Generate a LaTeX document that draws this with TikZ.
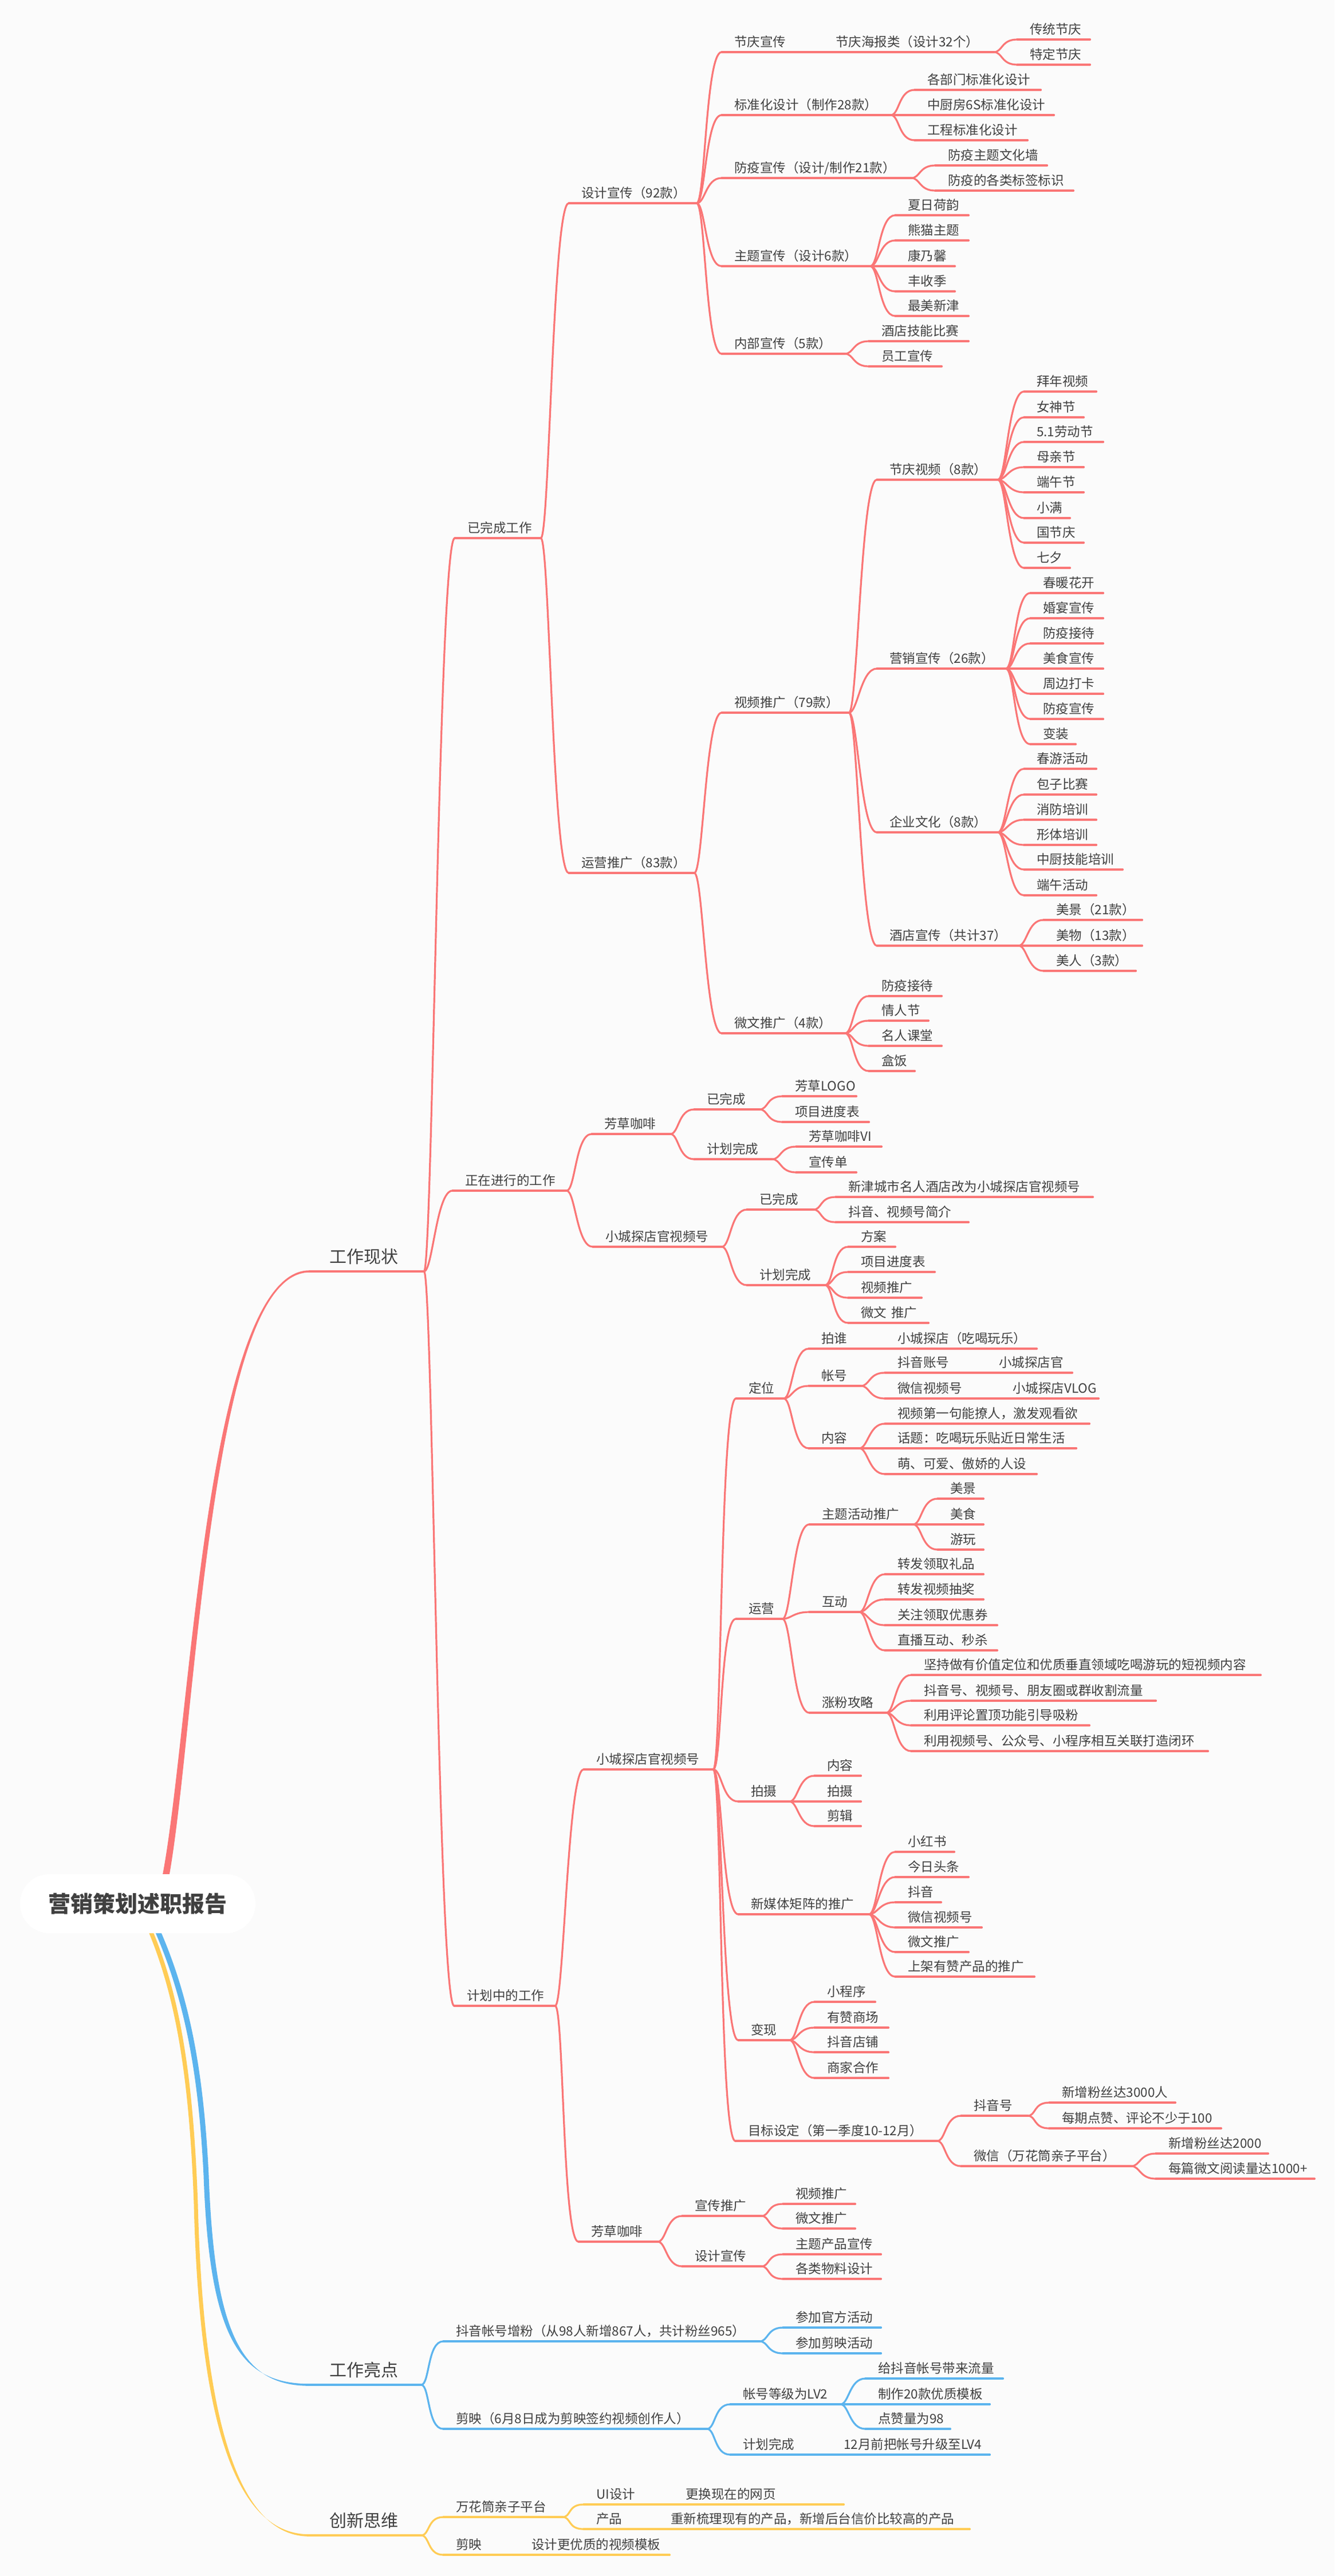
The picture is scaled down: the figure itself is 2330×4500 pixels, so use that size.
\documentclass[tikz,border=0pt]{standalone}
\usepackage{fontspec}
\setmainfont{Noto Sans CJK SC}
\usetikzlibrary{calc}
\definecolor{rd}{RGB}{250,118,118}
\definecolor{bl}{RGB}{92,180,238}
\definecolor{yl}{RGB}{255,204,85}
\definecolor{tx}{RGB}{64,64,64}
\definecolor{bg}{RGB}{251,251,251}
\def\tpcol{rd}
\newcommand\tp[5]{%
  \pgfmathsetmacro\tpw{#3-#2-44}%
  \node[topic,anchor=south west] (#1) at (#2,#4) {\makebox[\tpw pt][l]{#5}};%
  \draw[uline,\tpcol] (#1.south west) -- (#1.south east);}
\newcommand\tpb[5]{%
  \pgfmathsetmacro\tpw{#3-#2-70}%
  \node[topic,inner xsep=35pt,text depth=14pt,font=\fontsize{30}{36}\selectfont,anchor=south west] (#1) at (#2,#4) {\makebox[\tpw pt][l]{#5}};%
  \draw[uline,\tpcol,line width=3.6pt] (#1.south west) -- (#1.south east);}
\newcommand\cn[2]{\foreach \ch in {#2}{\draw[conn,\tpcol] (#1.south east) .. controls +(15,0) and +(-28,0) .. (\ch.south west);}}
\begin{document}
\begin{tikzpicture}[x=1pt,y=-1pt,
  topic/.style={inner xsep=22pt,inner ysep=0pt,text depth=9pt,text=tx,font=\fontsize{22.5}{27}\selectfont},
  uline/.style={line width=3.2pt,line cap=round},
  conn/.style={line width=3.2pt,line cap=round},
  rootnode/.style={fill=white,rounded corners=51pt,minimum width=411pt,minimum height=103pt,inner sep=0pt,text=tx,font=\fontsize{39}{46}\selectfont\bfseries}]
\useasboundingbox (0,0) rectangle (2330,4500);
\fill[bg] (0,0) rectangle (2330,4500);

% main thick branches
\fill[yl] (234,3320) .. controls (301,3450) and (329.5,3600) .. (338.5,3850) .. controls (348.5,4253) and (418,4427.2) .. (540,4427.2) -- (540,4430.8) .. controls (422,4430.8) and (355.5,4247) .. (345.5,3850) .. controls (336.5,3600) and (309,3450) .. (242,3320) -- cycle;
\fill[bl] (245,3320) .. controls (317,3460) and (345.5,3600) .. (355.5,3800) .. controls (365.5,4083) and (418,4164.2) .. (540,4164.2) -- (540,4167.8) .. controls (422,4167.8) and (374.5,4077) .. (364.5,3800) .. controls (354.5,3600) and (327,3460) .. (255,3320) -- cycle;
\fill[rd] (274.2,3318.4) .. controls (302.1,3218.8) and (321,2944.6) .. (356.2,2694.95) .. controls (391.5,2443.5) and (446,2219.2) .. (540,2219.2) -- (540,2222.8) .. controls (446,2222.8) and (398,2448) .. (364.1,2696.05) .. controls (330,2946) and (312.9,3221.2) .. (285.8,3321.6) -- cycle;
\node[rootnode] (root) at (240.5,3325.5) {营销策划述职报告};

% ===== red branch =====
\def\tpcol{rd}
\tpb{gzxz}{540}{740}{2221}{工作现状}
\tp{a}{794}{944}{940}{已完成工作}
\tp{b}{790}{989}{2080}{正在进行的工作}
\tp{c}{793}{969}{3504}{计划中的工作}
\tp{a1}{993}{1216}{355}{设计宣传（92款）}
\tp{a2}{993}{1212}{1525}{运营推广（83款）}
\tp{a11}{1260}{1437}{91}{节庆宣传}
\tp{a111}{1437}{1735}{91}{节庆海报类（设计32个）}
\tp{a1111}{1776}{1903}{69}{传统节庆}
\tp{a1112}{1776}{1903}{113}{特定节庆}
\tp{a12}{1260}{1555}{201}{标准化设计（制作28款）}
\tp{a121}{1597}{1817}{157}{各部门标准化设计}
\tp{a122}{1597}{1840}{201}{中厨房6S标准化设计}
\tp{a123}{1597}{1794}{245}{工程标准化设计}
\tp{a13}{1260}{1591}{311}{防疫宣传（设计/制作21款）}
\tp{a131}{1633}{1828}{289}{防疫主题文化墙}
\tp{a132}{1633}{1874}{333}{防疫的各类标签标识}
\tp{a14}{1260}{1519}{465}{主题宣传（设计6款）}
\tp{a141}{1563}{1691}{376}{夏日荷韵}
\tp{a142}{1563}{1691}{420}{熊猫主题}
\tp{a143}{1563}{1667}{465}{康乃馨}
\tp{a144}{1563}{1667}{509}{丰收季}
\tp{a145}{1563}{1691}{552}{最美新津}
\tp{a15}{1260}{1475}{618}{内部宣传（5款）}
\tp{a151}{1517}{1691}{596}{酒店技能比赛}
\tp{a152}{1517}{1644}{640}{员工宣传}
\tp{a21}{1260}{1482}{1245}{视频推广（79款）}
\tp{a211}{1531}{1742}{838}{节庆视频（8款）}
\tp{a2111}{1788}{1914}{684}{拜年视频}
\tp{a2112}{1788}{1892}{729}{女神节}
\tp{a2113}{1788}{1926}{772}{5.1劳动节}
\tp{a2114}{1788}{1892}{816}{母亲节}
\tp{a2115}{1788}{1892}{860}{端午节}
\tp{a2116}{1788}{1868}{905}{小满}
\tp{a2117}{1788}{1892}{948}{国节庆}
\tp{a2118}{1788}{1868}{992}{七夕}
\tp{a212}{1531}{1756}{1168}{营销宣传（26款）}
\tp{a2121}{1799}{1926}{1036}{春暖花开}
\tp{a2122}{1799}{1926}{1080}{婚宴宣传}
\tp{a2123}{1799}{1926}{1124}{防疫接待}
\tp{a2124}{1799}{1926}{1168}{美食宣传}
\tp{a2125}{1799}{1926}{1212}{周边打卡}
\tp{a2126}{1799}{1926}{1256}{防疫宣传}
\tp{a2127}{1799}{1878}{1300}{变装}
\tp{a213}{1531}{1742}{1454}{企业文化（8款）}
\tp{a2131}{1788}{1914}{1343}{春游活动}
\tp{a2132}{1788}{1914}{1388}{包子比赛}
\tp{a2133}{1788}{1914}{1432}{消防培训}
\tp{a2134}{1788}{1914}{1476}{形体培训}
\tp{a2135}{1788}{1960}{1519}{中厨技能培训}
\tp{a2136}{1788}{1914}{1564}{端午活动}
\tp{a214}{1531}{1778}{1652}{酒店宣传（共计37）}
\tp{a2141}{1822}{1994}{1607}{美景（21款）}
\tp{a2142}{1822}{1994}{1652}{美物（13款）}
\tp{a2143}{1822}{1983}{1696}{美人（3款）}
\tp{a22}{1260}{1475}{1805}{微文推广（4款）}
\tp{a221}{1517}{1644}{1740}{防疫接待}
\tp{a222}{1517}{1621}{1783}{情人节}
\tp{a223}{1517}{1644}{1827}{名人课堂}
\tp{a224}{1517}{1597}{1871}{盒饭}
\tp{b1}{1033}{1170}{1981}{芳草咖啡}
\tp{b11}{1212}{1326}{1938}{已完成}
\tp{b111}{1366}{1495}{1915}{芳草LOGO}
\tp{b112}{1366}{1517}{1960}{项目进度表}
\tp{b12}{1212}{1348}{2025}{计划完成}
\tp{b121}{1390}{1539}{2003}{芳草咖啡VI}
\tp{b122}{1390}{1495}{2048}{宣传单}
\tp{b2}{1035}{1260}{2178}{小城探店官视频号}
\tp{b21}{1304}{1420}{2113}{已完成}
\tp{b211}{1459}{1908}{2091}{新津城市名人酒店改为小城探店官视频号}
\tp{b212}{1459}{1691}{2135}{抖音、视频号简介}
\tp{b22}{1304}{1440}{2245}{计划完成}
\tp{b221}{1481}{1563}{2178}{方案}
\tp{b222}{1481}{1632}{2222}{项目进度表}
\tp{b223}{1481}{1609}{2267}{视频推广}
\tp{b224}{1481}{1621}{2311}{微文\hspace{8pt}推广}
\tp{c1}{1019}{1245}{3091}{小城探店官视频号}
\tp{c11}{1285}{1368}{2443}{定位}
\tp{c111}{1412}{1545}{2356}{拍谁}
\tp{c1111}{1545}{1810}{2356}{小城探店（吃喝玩乐）}
\tp{c112}{1412}{1503}{2421}{帐号}
\tp{c1121}{1545}{1722}{2398}{抖音账号}
\tp{c11211}{1722}{1872}{2398}{小城探店官}
\tp{c1122}{1545}{1746}{2443}{微信视频号}
\tp{c11221}{1746}{1918}{2443}{小城探店VLOG}
\tp{c113}{1412}{1500}{2530}{内容}
\tp{c1131}{1545}{1902}{2487}{视频第一句能撩人，激发观看欲}
\tp{c1132}{1545}{1879}{2530}{话题：吃喝玩乐贴近日常生活}
\tp{c1133}{1545}{1810}{2575}{萌、可爱、傲娇的人设}
\tp{c12}{1285}{1366}{2828}{运营}
\tp{c121}{1413}{1594}{2663}{主题活动推广}
\tp{c1211}{1637}{1717}{2618}{美景}
\tp{c1212}{1637}{1717}{2663}{美食}
\tp{c1213}{1637}{1717}{2707}{游玩}
\tp{c122}{1413}{1500}{2816}{互动}
\tp{c1221}{1545}{1717}{2750}{转发领取礼品}
\tp{c1222}{1545}{1717}{2794}{转发视频抽奖}
\tp{c1223}{1545}{1741}{2839}{关注领取优惠券}
\tp{c1224}{1545}{1741}{2883}{直播互动、秒杀}
\tp{c123}{1413}{1547}{2992}{涨粉攻略}
\tp{c1231}{1591}{2201}{2926}{坚持做有价值定位和优质垂直领域吃喝游玩的短视频内容}
\tp{c1232}{1591}{2018}{2971}{抖音号、视频号、朋友圈或群收割流量}
\tp{c1233}{1591}{1902}{3014}{利用评论置顶功能引导吸粉}
\tp{c1234}{1591}{2109}{3059}{利用视频号、公众号、小程序相互关联打造闭环}
\tp{c13}{1289}{1378}{3147}{拍摄}
\tp{c131}{1422}{1503}{3102}{内容}
\tp{c132}{1422}{1503}{3147}{拍摄}
\tp{c133}{1422}{1503}{3190}{剪辑}
\tp{c14}{1289}{1517}{3344}{新媒体矩阵的推广}
\tp{c141}{1563}{1666}{3235}{小红书}
\tp{c142}{1563}{1691}{3279}{今日头条}
\tp{c143}{1563}{1643}{3323}{抖音}
\tp{c144}{1563}{1714}{3367}{微信视频号}
\tp{c145}{1563}{1691}{3410}{微文推广}
\tp{c146}{1563}{1806}{3453}{上架有赞产品的推广}
\tp{c15}{1289}{1378}{3564}{变现}
\tp{c151}{1422}{1528}{3497}{小程序}
\tp{c152}{1422}{1551}{3542}{有赞商场}
\tp{c153}{1422}{1551}{3585}{抖音店铺}
\tp{c154}{1422}{1551}{3630}{商家合作}
\tp{c16}{1284}{1636}{3740}{目标设定（第一季度10-12月）}
\tp{c161}{1678}{1794}{3696}{抖音号}
\tp{c1611}{1832}{2052}{3673}{新增粉丝达3000人}
\tp{c1612}{1832}{2132}{3718}{每期点赞、评论不少于100}
\tp{c162}{1678}{1975}{3784}{微信（万花筒亲子平台）}
\tp{c1621}{2018}{2214}{3762}{新增粉丝达2000}
\tp{c1622}{2018}{2295}{3806}{每篇微文阅读量达1000+}
\tp{c2}{1010}{1148}{3916}{芳草咖啡}
\tp{c21}{1191}{1329}{3871}{宣传推广}
\tp{c211}{1367}{1493}{3850}{视频推广}
\tp{c212}{1367}{1493}{3893}{微文推广}
\tp{c22}{1191}{1329}{3959}{设计宣传}
\tp{c221}{1367}{1538}{3938}{主题产品宣传}
\tp{c222}{1367}{1538}{3981}{各类物料设计}

\cn{gzxz}{a,b,c}
\cn{a}{a1,a2}
\cn{a1}{a11,a12,a13,a14,a15}
\cn{a11}{a111}
\cn{a111}{a1111,a1112}
\cn{a12}{a121,a122,a123}
\cn{a13}{a131,a132}
\cn{a14}{a141,a142,a143,a144,a145}
\cn{a15}{a151,a152}
\cn{a2}{a21,a22}
\cn{a21}{a211,a212,a213,a214}
\cn{a211}{a2111,a2112,a2113,a2114,a2115,a2116,a2117,a2118}
\cn{a212}{a2121,a2122,a2123,a2124,a2125,a2126,a2127}
\cn{a213}{a2131,a2132,a2133,a2134,a2135,a2136}
\cn{a214}{a2141,a2142,a2143}
\cn{a22}{a221,a222,a223,a224}
\cn{b}{b1,b2}
\cn{b1}{b11,b12}
\cn{b11}{b111,b112}
\cn{b12}{b121,b122}
\cn{b2}{b21,b22}
\cn{b21}{b211,b212}
\cn{b22}{b221,b222,b223,b224}
\cn{c}{c1,c2}
\cn{c1}{c11,c12,c13,c14,c15,c16}
\cn{c11}{c111,c112,c113}
\cn{c111}{c1111}
\cn{c112}{c1121,c1122}
\cn{c1121}{c11211}
\cn{c1122}{c11221}
\cn{c113}{c1131,c1132,c1133}
\cn{c12}{c121,c122,c123}
\cn{c121}{c1211,c1212,c1213}
\cn{c122}{c1221,c1222,c1223,c1224}
\cn{c123}{c1231,c1232,c1233,c1234}
\cn{c13}{c131,c132,c133}
\cn{c14}{c141,c142,c143,c144,c145,c146}
\cn{c15}{c151,c152,c153,c154}
\cn{c16}{c161,c162}
\cn{c161}{c1611,c1612}
\cn{c162}{c1621,c1622}
\cn{c2}{c21,c22}
\cn{c21}{c211,c212}
\cn{c22}{c221,c222}

% ===== blue branch =====
\def\tpcol{bl}
\tpb{d}{540}{735}{4166}{工作亮点}
\tp{d1}{774}{1326}{4090}{抖音帐号增粉（从98人新增867人，共计粉丝965）}
\tp{d11}{1367}{1538}{4066}{参加官方活动}
\tp{d12}{1367}{1538}{4111}{参加剪映活动}
\tp{d2}{774}{1234}{4243}{剪映（6月8日成为剪映签约视频创作人）}
\tp{d21}{1275}{1467}{4200}{帐号等级为LV2}
\tp{d211}{1511}{1751}{4155}{给抖音帐号带来流量}
\tp{d212}{1511}{1728}{4200}{制作20款优质模板}
\tp{d213}{1511}{1659}{4243}{点赞量为98}
\tp{d22}{1275}{1451}{4288}{计划完成}
\tp{d221}{1451}{1728}{4288}{12月前把帐号升级至LV4}
\cn{d}{d1,d2}
\cn{d1}{d11,d12}
\cn{d2}{d21,d22}
\cn{d21}{d211,d212,d213}
\cn{d22}{d221}

% ===== yellow branch =====
\def\tpcol{yl}
\tpb{e}{540}{735}{4429}{创新思维}
\tp{e1}{774}{982}{4397}{万花筒亲子平台}
\tp{e11}{1019}{1175}{4375}{UI设计}
\tp{e111}{1175}{1473}{4375}{更换现在的网页}
\tp{e12}{1019}{1149}{4418}{产品}
\tp{e121}{1149}{1693}{4418}{重新梳理现有的产品，新增后台信价比较高的产品}
\tp{e2}{774}{906}{4463}{剪映}
\tp{e21}{906}{1169}{4463}{设计更优质的视频模板}
\cn{e}{e1,e2}
\cn{e1}{e11,e12}
\cn{e11}{e111}
\cn{e12}{e121}
\cn{e2}{e21}
\end{tikzpicture}
\end{document}
